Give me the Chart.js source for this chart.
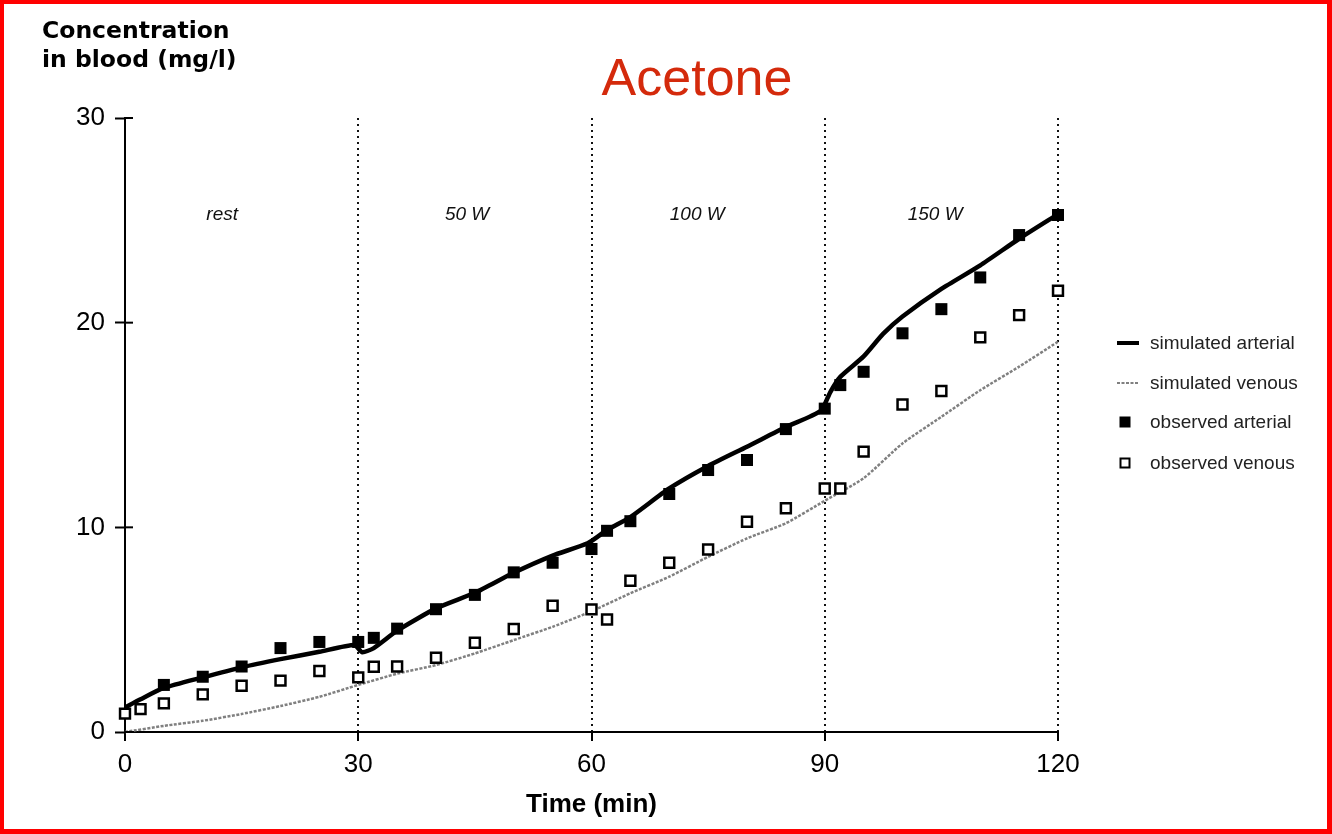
<!DOCTYPE html>
<html>
<head>
<meta charset="utf-8">
<title>Acetone</title>
<script src="https://cdn.jsdelivr.net/npm/chart.js@4.4.1/dist/chart.umd.min.js"></script>
<style>
  html, body { margin: 0; padding: 0; background: #fff; overflow: hidden; }
  #wadah { position: relative; width: 1332px; height: 834px; }
  #grafik { position: absolute; left: 0; top: 0; }
  #bingkai {
    position: absolute; left: 0; top: 0; right: 0; bottom: 0;
    border-style: solid; border-color: #ff0000;
    border-width: 4px 5px 5px 4px;
    pointer-events: none;
  }
</style>
</head>
<body>
<div id="wadah">
  <canvas id="grafik" width="1332" height="834"></canvas>
  <div id="bingkai"></div>
</div>
<script>
// waktu (menit) dan konsentrasi (mg/l)
const waktuSimArteri = [0, 2, 5, 10, 15, 20, 25, 29.5, 30.5, 32, 35, 40, 45, 50, 55, 59.5, 62, 65, 70, 75, 80, 85, 89.5, 90.7, 92, 95, 97.5, 100, 105, 110, 115, 120];
const simArteri = [1.2, 1.6, 2.15, 2.67, 3.16, 3.56, 3.92, 4.25, 3.9, 4.1, 4.95, 6.04, 6.8, 7.78, 8.62, 9.22, 9.87, 10.5, 11.9, 13.0, 13.94, 14.9, 15.7, 16.6, 17.35, 18.35, 19.45, 20.3, 21.65, 22.8, 24.1, 25.3];

const waktuSimVena = [0, 5, 10, 15, 20, 25, 30, 35, 40, 45, 50, 55, 60, 65, 70, 75, 80, 85, 90, 95, 100, 105, 110, 115, 120];
const simVena = [0, 0.3, 0.55, 0.88, 1.27, 1.72, 2.3, 2.85, 3.27, 3.84, 4.49, 5.14, 5.9, 6.78, 7.59, 8.56, 9.46, 10.2, 11.3, 12.4, 14.1, 15.4, 16.7, 17.85, 19.07];

const waktuObs = [0, 2, 5, 10, 15, 20, 25, 30, 32, 35, 40, 45, 50, 55, 60, 62, 65, 70, 75, 80, 85, 90, 92, 95, 100, 105, 110, 115, 120];
const obsArteri = [null, null, 2.3, 2.7, 3.2, 4.1, 4.4, 4.4, 4.6, 5.05, 6.0, 6.7, 7.8, 8.27, 8.94, 9.83, 10.3, 11.63, 12.8, 13.29, 14.8, 15.8, 16.95, 17.6, 19.48, 20.66, 22.21, 24.28, 25.26];
const obsVena = [0.9, 1.12, 1.4, 1.84, 2.26, 2.51, 2.98, 2.67, 3.19, 3.2, 3.63, 4.36, 5.03, 6.17, 5.99, 5.5, 7.39, 8.27, 8.92, 10.27, 10.93, 11.9, 11.9, 13.7, 16.0, 16.66, 19.28, 20.37, 21.56];

const labelFase = ['rest', '50 W', '100 W', '150 W'];
const tickX = [0, 30, 60, 90, 120];
const tickY = [0, 10, 20, 30];

const labelLegenda = ['simulated arterial', 'simulated venous', 'observed arterial', 'observed venous'];

const pasangkan = (xs, ys) => xs.map((x, i) => ({ x: x, y: ys[i] }));

const FONT = "'Liberation Sans', Arial, Helvetica, sans-serif";

// teks tambahan: judul, label sumbu Y, fase latihan, legenda
const pluginTeks = {
  id: 'teksTambahan',
  afterDraw(chart) {
    const { ctx, scales: { x, y } } = chart;
    ctx.save();

    // bagian dalam tanda tick sumbu Y
    ctx.strokeStyle = '#000';
    ctx.lineWidth = 2;
    tickY.forEach(v => {
      const py = y.getPixelForValue(v);
      ctx.beginPath();
      ctx.moveTo(x.left, py);
      ctx.lineTo(x.left + 8, py);
      ctx.stroke();
    });

    // judul
    ctx.fillStyle = '#d42a0c';
    ctx.font = `52px ${FONT}`;
    ctx.textAlign = 'center';
    ctx.textBaseline = 'alphabetic';
    ctx.fillText('Acetone', 697, 95);

    // judul sumbu Y
    ctx.fillStyle = '#000';
    ctx.font = "bold 23.5px 'DejaVu Sans', sans-serif";
    ctx.textAlign = 'left';
    ctx.fillText('Concentration', 42, 38);
    ctx.fillText('in blood (mg/l)', 42, 67);

    // nama fase di tiap segmen 30 menit
    const posisiFase = [12.5, 44, 73.6, 104.2];
    ctx.fillStyle = '#111';
    ctx.font = `italic 19px ${FONT}`;
    ctx.textAlign = 'center';
    labelFase.forEach((teks, i) => {
      ctx.fillText(teks, x.getPixelForValue(posisiFase[i]), 220);
    });

    // legenda
    const ds = chart.data.datasets;
    const lx = 1115, tx = 1150;
    const ly = [343, 383, 422, 463];
    ctx.font = `19px ${FONT}`;
    ctx.textAlign = 'left';
    ctx.textBaseline = 'middle';
    labelLegenda.forEach((teks, i) => {
      const d = ds[i];
      if (i < 2) {
        ctx.strokeStyle = d.borderColor;
        ctx.lineWidth = i === 0 ? 4 : 2;
        ctx.setLineDash(d.borderDash || []);
        ctx.beginPath();
        ctx.moveTo(lx + 2, ly[i]);
        ctx.lineTo(lx + 24, ly[i]);
        ctx.stroke();
        ctx.setLineDash([]);
      } else {
        const s = i === 2 ? 11 : 9;
        ctx.fillStyle = d.pointBackgroundColor;
        ctx.fillRect(lx + 10 - s / 2, ly[i] - s / 2, s, s);
        if (i === 3) {
          ctx.strokeStyle = '#000';
          ctx.lineWidth = 2;
          ctx.strokeRect(lx + 10 - s / 2, ly[i] - s / 2, s, s);
        }
      }
      ctx.fillStyle = '#222';
      ctx.fillText(teks, tx, ly[i] + 1);
    });

    ctx.restore();
  }
};

const ctx = document.getElementById('grafik').getContext('2d');

new Chart(ctx, {
  type: 'scatter',
  data: {
    datasets: [
      {
        label: labelLegenda[0],
        type: 'line',
        data: pasangkan(waktuSimArteri, simArteri),
        borderColor: '#000',
        borderWidth: 4.5,
        pointRadius: 0,
        tension: 0.2,
        clip: false,
        order: 2
      },
      {
        label: labelLegenda[1],
        type: 'line',
        data: pasangkan(waktuSimVena, simVena),
        borderColor: '#808080',
        borderWidth: 2.5,
        borderDash: [3, 1.5],
        pointRadius: 0,
        tension: 0.2,
        clip: false,
        order: 3
      },
      {
        label: labelLegenda[2],
        data: pasangkan(waktuObs, obsArteri),
        pointStyle: 'rect',
        pointRadius: 8.5,
        pointBackgroundColor: '#000',
        pointBorderColor: '#000',
        pointBorderWidth: 0,
        clip: false,
        order: 1
      },
      {
        label: labelLegenda[3],
        data: pasangkan(waktuObs, obsVena),
        pointStyle: 'rect',
        pointRadius: 7,
        pointBackgroundColor: '#fff',
        pointBorderColor: '#000',
        pointBorderWidth: 2.5,
        clip: false,
        order: 0
      }
    ]
  },
  options: {
    responsive: false,
    animation: false,
    layout: { padding: { top: 118, right: 274, left: 0, bottom: 0 } },
    plugins: {
      legend: { display: false },
      title: { display: false },
      tooltip: { enabled: false }
    },
    scales: {
      x: {
        type: 'linear',
        min: 0,
        max: 120,
        afterBuildTicks: s => { s.ticks = tickX.map(v => ({ value: v })); },
        afterFit: s => { s.height = 102; },
        ticks: {
          color: '#000',
          font: { family: FONT, size: 26 },
          padding: 8,
          maxRotation: 0
        },
        grid: {
          drawOnChartArea: true,
          color: c => (c.tick && c.tick.value === 0 ? 'rgba(0,0,0,0)' : '#111'),
          lineWidth: 2,
          tickLength: 9,
          tickColor: '#000',
          tickWidth: 2
        },
        border: { color: '#000', width: 2, dash: [2, 4] },
        title: {
          display: true,
          text: 'Time (min)',
          color: '#000',
          font: { family: FONT, size: 26, weight: 'bold' },
          padding: { top: 0, bottom: 14 }
        }
      },
      y: {
        min: 0,
        max: 30,
        afterBuildTicks: s => { s.ticks = tickY.map(v => ({ value: v })); },
        afterFit: s => { s.width = 125; },
        ticks: {
          color: '#000',
          font: { family: FONT, size: 26 },
          padding: 10
        },
        grid: {
          drawOnChartArea: false,
          tickLength: 10,
          tickColor: '#000',
          tickWidth: 2
        },
        border: { color: '#000', width: 2 }
      }
    }
  },
  plugins: [pluginTeks]
});
</script>
</body>
</html>
